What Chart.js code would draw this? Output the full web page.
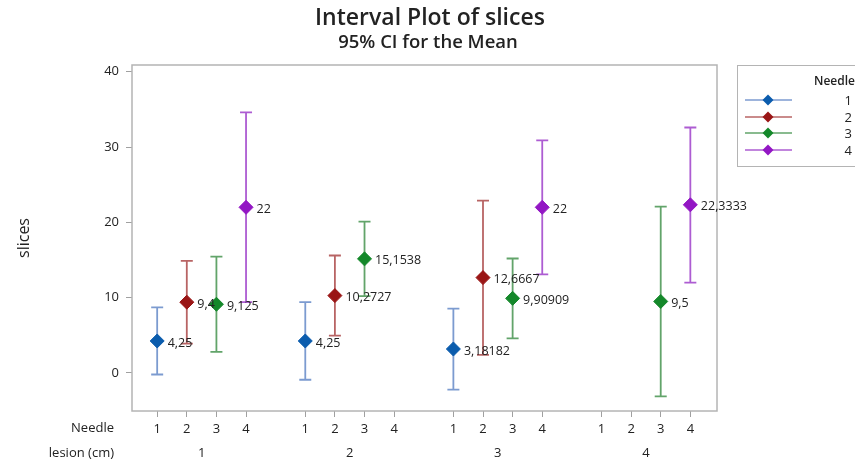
<!DOCTYPE html>
<html>
<head>
<meta charset="utf-8">
<script src="https://cdn.jsdelivr.net/npm/chart.js@4"></script>
<style>
  html, body { margin: 0; padding: 0; background: #fff; }
  #wrap { width: 855px; height: 462px; }
</style>
</head>
<body>
<div id="wrap"><canvas id="chart"></canvas></div>
<script>
// categories
const lesions = ['1', '2', '3', '4'];
const needles = ['1', '2', '3', '4'];
const yTicks = [0, 10, 20, 30, 40];

// means and 95% CI bounds per needle, one value per lesion (null = no data)
const needle1Mean = [4.25, 4.25, 3.18182, null];
const needle1Lo = [-0.2, -0.9, -2.2, null];
const needle1Hi = [8.7, 9.4, 8.55, null];
const needle2Mean = [9.4, 10.2727, 12.6667, null];
const needle2Lo = [3.9, 4.95, 2.4, null];
const needle2Hi = [14.9, 15.6, 22.9, null];
const needle3Mean = [9.125, 15.1538, 9.90909, 9.5];
const needle3Lo = [2.8, 10.2, 4.6, -3.1];
const needle3Hi = [15.45, 20.1, 15.2, 22.1];
const needle4Mean = [22, null, 22, 22.3333];
const needle4Lo = [9.4, null, 13.1, 12.0];
const needle4Hi = [34.6, null, 30.9, 32.6];

const means = [needle1Mean, needle2Mean, needle3Mean, needle4Mean];
const los = [needle1Lo, needle2Lo, needle3Lo, needle4Lo];
const his = [needle1Hi, needle2Hi, needle3Hi, needle4Hi];

const markColors = ['#0b5cad', '#9a1616', '#14882a', '#9317c4'];
const barColors = ['#7c9bd0', '#b86464', '#62a46a', '#ad5cd2'];
const FONT = "'Open Sans', 'Noto Sans', sans-serif";

// x slot: 4 needles per lesion, one empty slot between lesions
const slot = (li, ni) => li * 5 + ni;

const datasets = needles.map((n, ni) => ({
  label: n,
  data: lesions.map((l, li) => means[ni][li] == null ? null :
    { x: slot(li, ni), y: means[ni][li], lo: los[ni][li], hi: his[ni][li] }).filter(d => d),
  backgroundColor: markColors[ni],
  borderColor: markColors[ni],
  pointStyle: 'rectRot',
  pointRadius: 7,
  pointHoverRadius: 7,
  showLine: false
}));

const intervalPlugin = {
  id: 'interval',
  beforeDatasetsDraw(chart) {
    const { ctx, chartArea: a, scales: { x, y } } = chart;
    ctx.save();
    ctx.strokeStyle = '#b4b4b4';
    ctx.lineWidth = 1.5;
    ctx.strokeRect(a.left, a.top, a.right - a.left, a.bottom - a.top);
    chart.data.datasets.forEach((ds, i) => {
      ctx.strokeStyle = barColors[i];
      ctx.lineWidth = 1.8;
      ds.data.forEach(d => {
        const px = x.getPixelForValue(d.x);
        const top = y.getPixelForValue(d.hi);
        const bot = y.getPixelForValue(d.lo);
        ctx.beginPath();
        ctx.moveTo(px, top); ctx.lineTo(px, bot);
        ctx.moveTo(px - 6, top); ctx.lineTo(px + 6, top);
        ctx.moveTo(px - 6, bot); ctx.lineTo(px + 6, bot);
        ctx.stroke();
      });
    });
    ctx.restore();
  },
  afterDatasetsDraw(chart) {
    const { ctx, scales: { x, y } } = chart;
    ctx.save();
    ctx.fillStyle = '#222';
    ctx.font = '12.5px ' + FONT;
    ctx.textAlign = 'left';
    ctx.textBaseline = 'middle';
    chart.data.datasets.forEach(ds => {
      ds.data.forEach(d => {
        ctx.fillText(String(d.y).replace('.', ','), x.getPixelForValue(d.x) + 10.5, y.getPixelForValue(d.y) + 2);
      });
    });
    ctx.restore();
  },
  afterDraw(chart) {
    const { ctx, scales: { x } } = chart;
    ctx.save();
    // titles
    ctx.fillStyle = '#222';
    ctx.textAlign = 'center';
    ctx.textBaseline = 'middle';
    ctx.font = '600 23px ' + FONT;
    ctx.fillText('Interval Plot of slices', 430, 18);
    ctx.font = '600 18.5px ' + FONT;
    ctx.fillText('95% CI for the Mean', 428, 43);
    // x axis row titles and lesion labels
    ctx.font = '13px ' + FONT;
    ctx.textAlign = 'right';
    ctx.fillText('Needle', 114, 428);
    ctx.fillText('lesion (cm)', 114, 453);
    ctx.textAlign = 'center';
    lesions.forEach((l, li) => ctx.fillText(l, x.getPixelForValue(slot(li, 1.5)), 453));
    // legend
    ctx.strokeStyle = '#b4b4b4';
    ctx.lineWidth = 1;
    ctx.strokeRect(737.5, 65.5, 130, 101);
    ctx.fillStyle = '#222';
    ctx.textAlign = 'right';
    ctx.font = '600 12px ' + FONT;
    ctx.fillText('Needle', 855, 82);
    ctx.font = '13px ' + FONT;
    const rows = [100, 117, 133, 150];
    needles.forEach((n, i) => {
      const ry = rows[i];
      ctx.strokeStyle = barColors[i];
      ctx.lineWidth = 1.5;
      ctx.beginPath(); ctx.moveTo(745, ry); ctx.lineTo(792, ry); ctx.stroke();
      ctx.fillStyle = markColors[i];
      ctx.beginPath();
      ctx.moveTo(768, ry - 5.5); ctx.lineTo(773.5, ry); ctx.lineTo(768, ry + 5.5); ctx.lineTo(762.5, ry);
      ctx.closePath(); ctx.fill();
      ctx.fillStyle = '#222';
      ctx.fillText(n, 852, ry + 1);
    });
    ctx.restore();
  }
};

new Chart(document.getElementById('chart'), {
  type: 'scatter',
  data: { datasets },
  options: {
    responsive: true,
    maintainAspectRatio: false,
    animation: false,
    layout: { padding: { top: 65, right: 138, left: 0, bottom: 0 } },
    plugins: { legend: { display: false }, tooltip: { enabled: false } },
    scales: {
      x: {
        type: 'linear',
        min: -0.85,
        max: 18.9,
        afterFit: s => { s.height = 51; },
        afterBuildTicks: s => {
          s.ticks = [];
          lesions.forEach((l, li) => needles.forEach((n, ni) => s.ticks.push({ value: slot(li, ni) })));
        },
        border: { display: false },
        grid: { drawOnChartArea: false, drawTicks: true, tickLength: 6, color: '#a0a0a0' },
        ticks: {
          color: '#222',
          padding: 4,
          maxRotation: 0,
          autoSkip: false,
          font: { family: FONT, size: 13 },
          callback: v => needles[Math.round(v) % 5]
        }
      },
      y: {
        min: -5.05,
        max: 40.9,
        afterFit: s => { s.width = 132; },
        afterBuildTicks: s => { s.ticks = yTicks.map(v => ({ value: v })); },
        border: { display: false },
        grid: { drawOnChartArea: false, drawTicks: true, tickLength: 6, color: '#a0a0a0' },
        ticks: { color: '#222', padding: 7, font: { family: FONT, size: 13 } },
        title: { display: true, text: 'slices', color: '#222', font: { family: FONT, size: 16 }, padding: { top: 15 } }
      }
    }
  },
  plugins: [intervalPlugin]
});
</script>
</body>
</html>
